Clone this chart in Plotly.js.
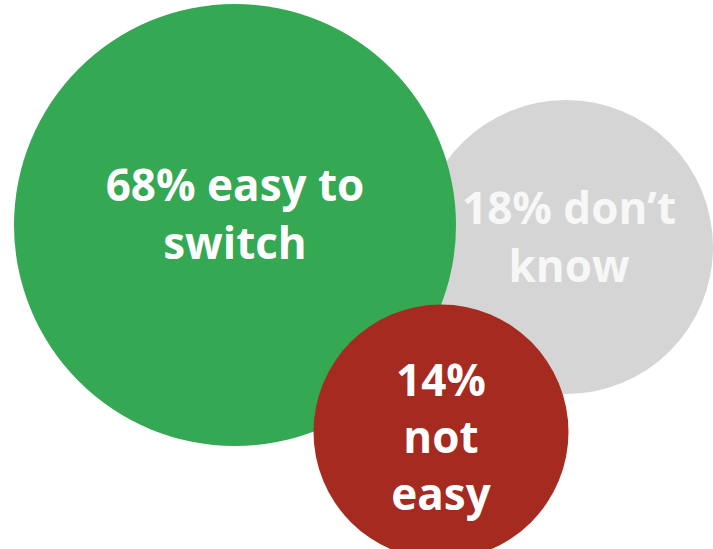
<!DOCTYPE html>
<html>
<head>
<meta charset="utf-8">
<script src="https://cdn.plot.ly/plotly-3.0.1.min.js"></script>
<style>html,body{margin:0;padding:0;background:#fff;}#chart{width:713px;height:549px;}</style>
</head>
<body>
<div id="chart"></div>
<script>
// Data
const categories = ["easy to switch", "don\u2019t know", "not easy"];
const shares = [68, 18, 14];
const labels = ["68% easy to<br>switch", "18% don\u2019t<br>know", "14%<br>not<br>easy"];

// Layout spec (positions in pixel-space axes, sizes = diameters in px)
const bubbleX = [235, 566, 441];
const bubbleY = [225, 247, 432];
const bubbleD = [442, 294, 255];
const colors = ["#34A853", "#D5D5D5", "#A52A1F"];
const textColors = ["#FFFFFF", "#F7F7F7", "#FFFFFF"];
const labelX = [235, 569, 441];
const labelY = [219, 242, 442];

// draw order: gray, green, red
const order = [1, 0, 2];
const traces = [];
order.forEach(i => {
  traces.push({
    type: "scatter", mode: "markers",
    x: [bubbleX[i]], y: [bubbleY[i]],
    marker: {size: bubbleD[i], color: colors[i], line: {width: 0}, opacity: 1},
    name: categories[i] + " (" + shares[i] + "%)",
    hoverinfo: "name", showlegend: false
  });
});
order.forEach(i => {
  traces.push({
    type: "scatter", mode: "text",
    x: [labelX[i]], y: [labelY[i]],
    text: [labels[i]],
    textposition: "middle center",
    textfont: {family: "Open Sans, sans-serif", size: 44, color: textColors[i], weight: 700},
    hoverinfo: "skip", showlegend: false
  });
});

const layout = {
  width: 713, height: 549,
  margin: {l: 0, r: 0, t: 0, b: 0},
  paper_bgcolor: "#ffffff", plot_bgcolor: "#ffffff",
  xaxis: {range: [0, 713], visible: false, fixedrange: true},
  yaxis: {range: [549, 0], visible: false, fixedrange: true},
  showlegend: false
};
Plotly.newPlot("chart", traces, layout, {displayModeBar: false, staticPlot: true});
</script>
</body>
</html>
